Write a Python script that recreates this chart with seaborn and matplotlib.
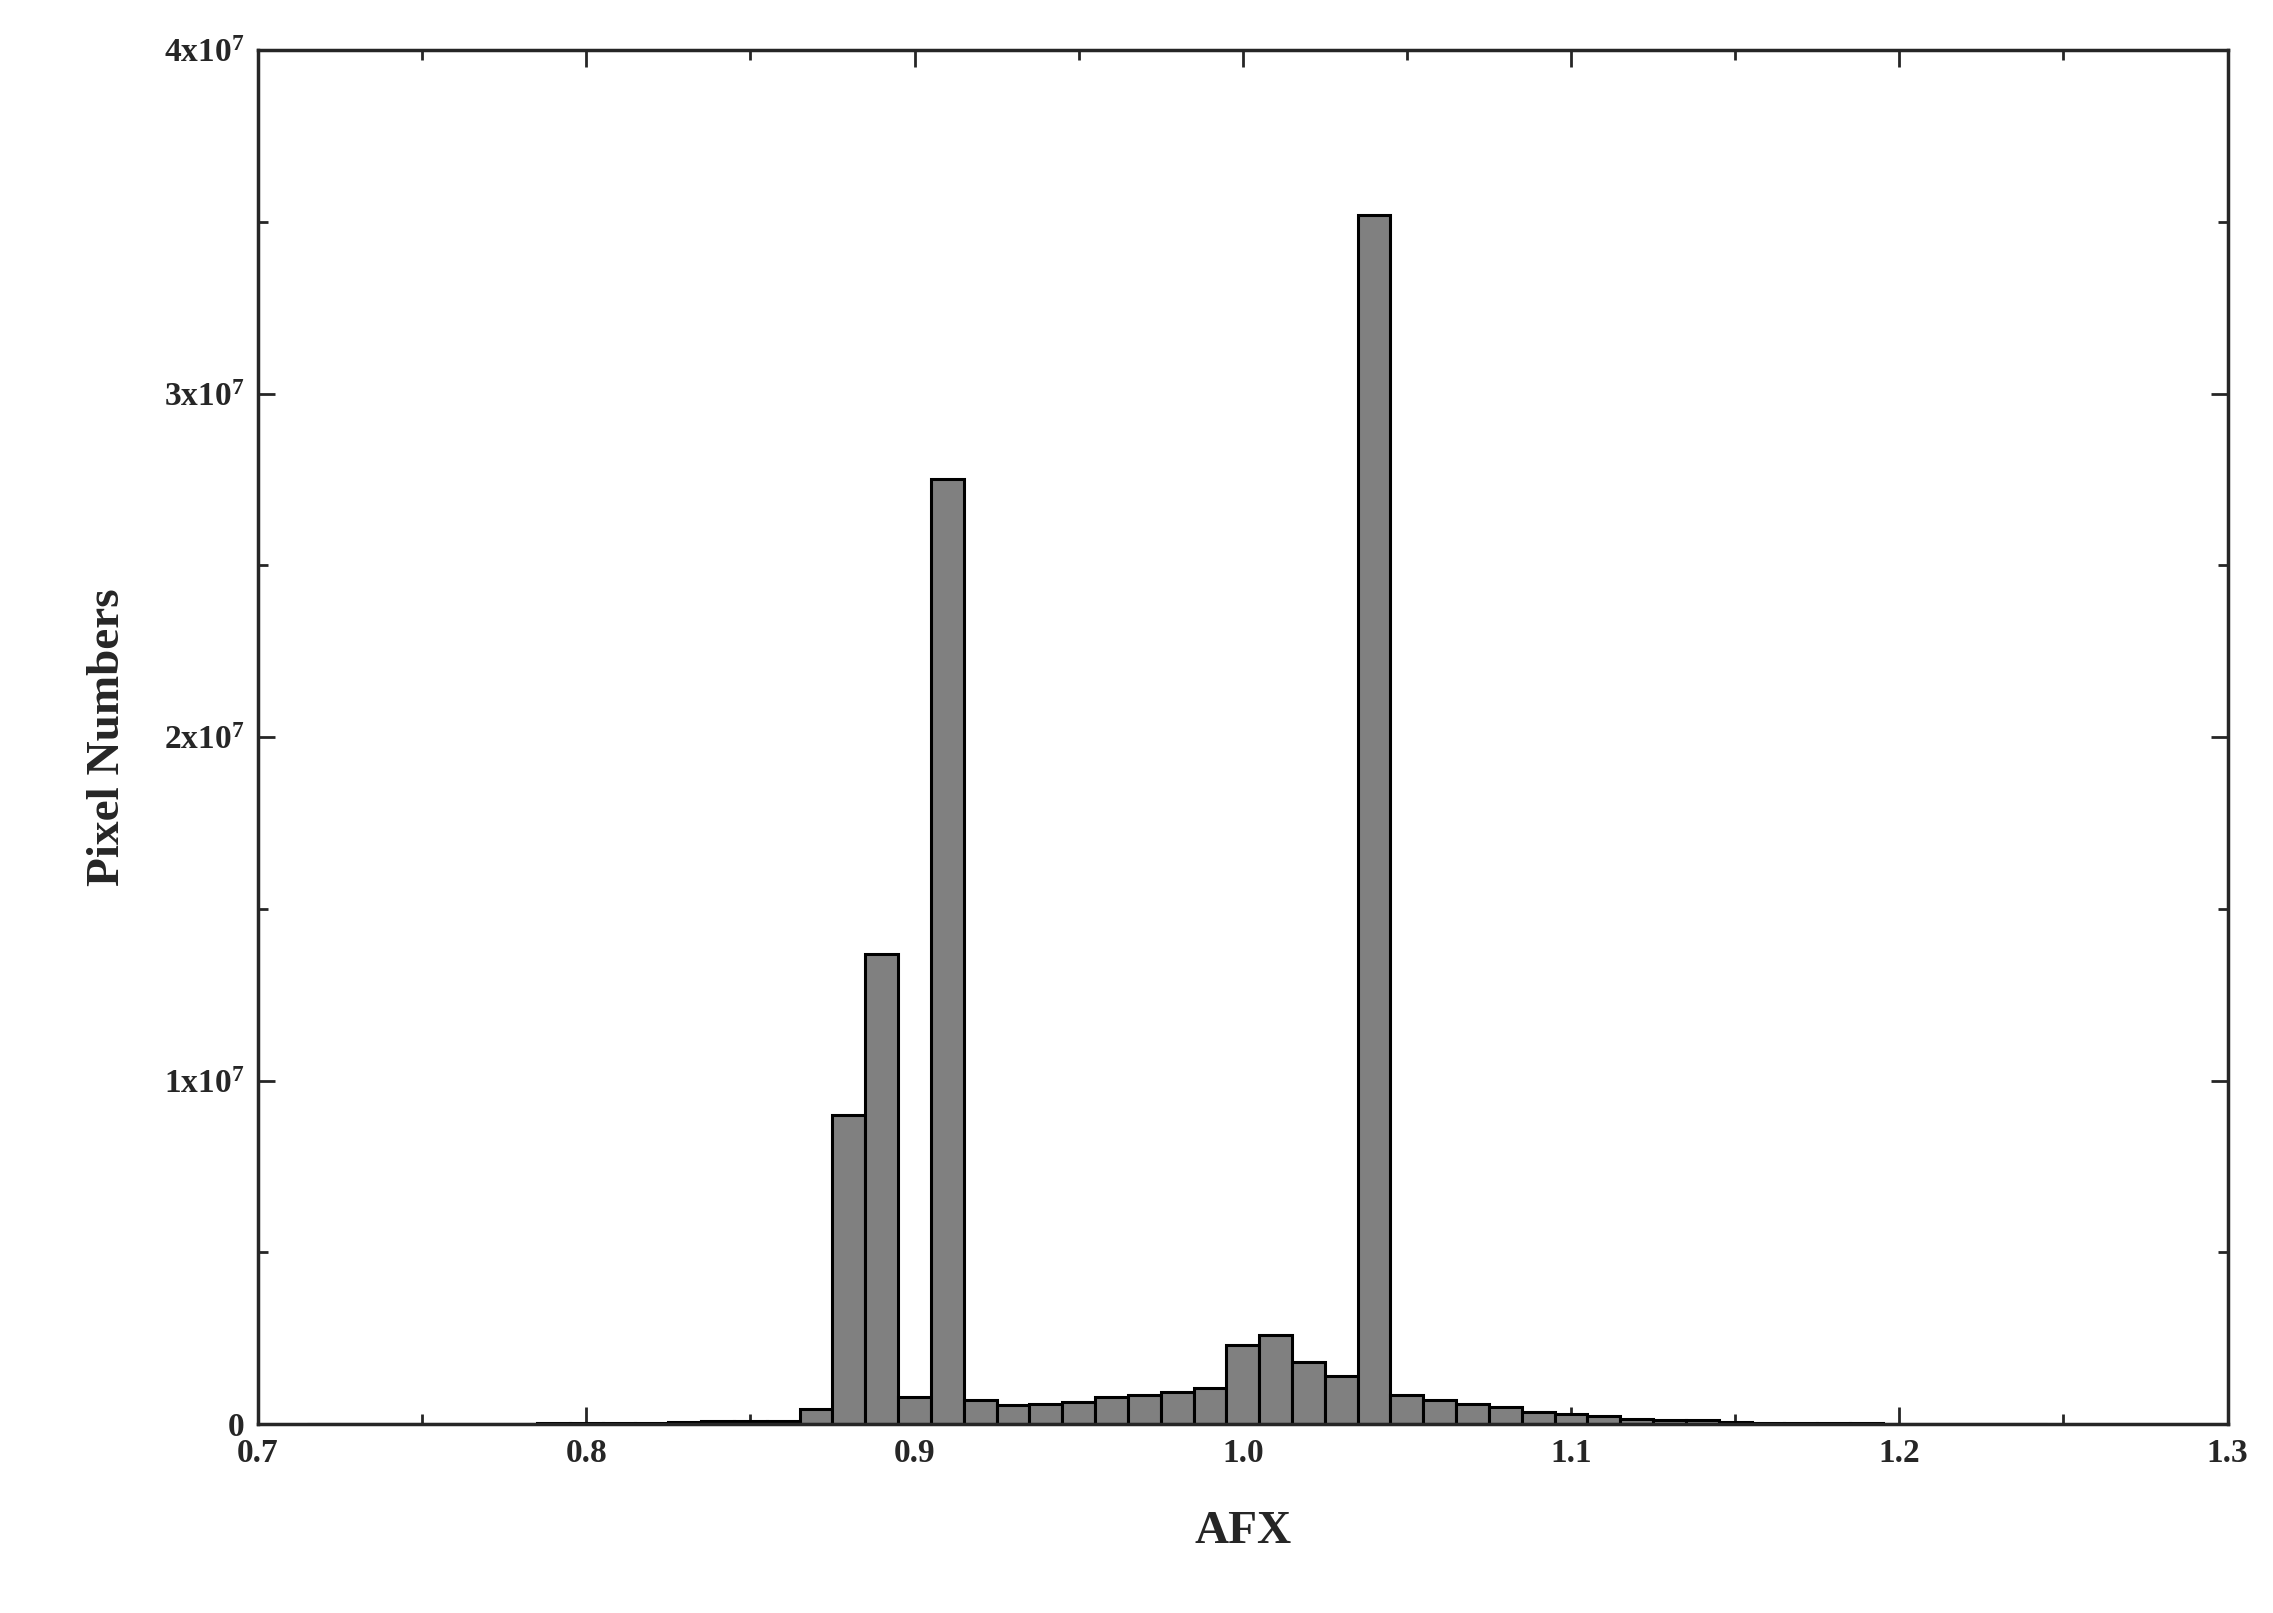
import numpy as np
import pandas as pd
import matplotlib
matplotlib.use("Agg")
import matplotlib.pyplot as plt
import seaborn as sns
from matplotlib.ticker import FuncFormatter, MultipleLocator

afx_centers = [round(0.72 + 0.01 * i, 2) for i in range(53)]
pixel_counts_1e6 = [0.01, 0.01, 0.01, 0.01, 0.02, 0.02, 0.02, 0.03,
                    0.04, 0.05, 0.05, 0.07, 0.09, 0.10, 0.10, 0.45,
                    9.0, 13.7, 0.8, 27.5, 0.7, 0.55, 0.6, 0.65,
                    0.8, 0.85, 0.95, 1.05, 2.3, 2.6, 1.8, 1.4,
                    35.2, 0.85, 0.7, 0.6, 0.5, 0.35, 0.3, 0.25,
                    0.15, 0.12, 0.12, 0.08, 0.05, 0.05, 0.03, 0.03,
                    0.02, 0.01, 0.01, 0.01, 0.01]

sns.set_style("ticks")
plt.rcParams['font.family'] = ['Liberation Serif', 'DejaVu Serif']
plt.rcParams['font.weight'] = 'bold'
plt.rcParams['mathtext.fontset'] = 'custom'
plt.rcParams['mathtext.rm'] = 'Liberation Serif:bold'
plt.rcParams['mathtext.it'] = 'Liberation Serif:bold'
plt.rcParams['mathtext.bf'] = 'Liberation Serif:bold'

fig = plt.figure(figsize=(22.73, 16.13), dpi=100)
ax = fig.add_axes([0.1135, 0.117, 0.8665, 0.852])

df = pd.DataFrame({"afx": afx_centers,
                   "count": np.array(pixel_counts_1e6) * 1e6})
edges = [c - 0.005 for c in afx_centers] + [afx_centers[-1] + 0.005]
sns.histplot(data=df, x="afx", weights="count", bins=edges, ax=ax,
             color='#808080', alpha=1, edgecolor='black', linewidth=2.2)

ax.set_xlim(0.7, 1.3)
ax.set_ylim(0, 4e7)
ax.xaxis.set_major_locator(MultipleLocator(0.1))
ax.xaxis.set_minor_locator(MultipleLocator(0.05))
ax.yaxis.set_major_locator(MultipleLocator(1e7))
ax.yaxis.set_minor_locator(MultipleLocator(5e6))
ax.xaxis.set_major_formatter(FuncFormatter(lambda v, p: f"{v:.1f}"))

def yfmt(v, p):
    n = int(round(v / 1e7))
    if n == 0:
        return "0"
    return f"{n}x10$^{{7}}$"
ax.yaxis.set_major_formatter(FuncFormatter(yfmt))

ax.tick_params(which='both', direction='in', top=True, right=True, width=2)
ax.tick_params(which='major', length=12, labelsize=24, pad=10)
ax.tick_params(which='minor', length=7)
for s in ax.spines.values():
    s.set_linewidth(2.5)
for lab in ax.get_xticklabels() + ax.get_yticklabels():
    lab.set_fontweight('bold')

ax.set_xlabel("AFX", fontsize=34, fontweight='bold', labelpad=30)
ax.set_ylabel("Pixel Numbers", fontsize=34, fontweight='bold', labelpad=25)

fig.savefig("out.png", dpi=100)
